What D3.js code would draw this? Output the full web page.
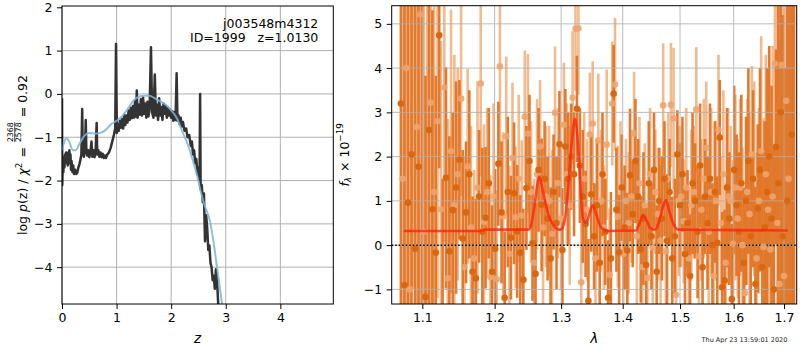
<!DOCTYPE html>
<html><head><meta charset="utf-8">
<script src="https://cdn.jsdelivr.net/npm/d3@7"></script>
<style>
body{margin:0;background:#fff;}
svg{display:block;font-family:"DejaVu Sans",sans-serif;}
</style></head><body>
<svg id="c" width="800" height="350"></svg>
<script>
// ---------- DATA ----------
const zTicks = [0, 1, 2, 3, 4];
const logpTicks = [-4, -3, -2, -1, 0, 1, 2];
const waveTicks = [1.1, 1.2, 1.3, 1.4, 1.5, 1.6, 1.7];
const fluxTicks = [-1, 0, 1, 2, 3, 4, 5];

// log p(z) (dark line)
const pzZ = [0.000,0.005,0.015,0.025,0.035,0.045,0.055,0.065,0.075,0.085,0.095,0.105,0.115,0.125,0.135,0.145,0.155,0.165,0.175,0.190,0.205,0.220,0.240,0.260,0.280,0.300,0.320,0.340,0.355,0.370,0.380,0.400,0.420,0.435,0.445,0.460,0.480,0.500,0.520,0.540,0.555,0.575,0.595,0.615,0.635,0.645,0.665,0.685,0.705,0.725,0.745,0.765,0.785,0.805,0.830,0.860,0.890,0.920,0.950,0.975,0.990,1.005,1.020,1.040,1.060,1.080,1.100,1.120,1.140,1.160,1.180,1.200,1.220,1.240,1.260,1.280,1.300,1.320,1.340,1.355,1.370,1.385,1.405,1.425,1.445,1.465,1.485,1.505,1.525,1.545,1.565,1.585,1.605,1.630,1.650,1.675,1.700,1.720,1.740,1.760,1.780,1.800,1.820,1.840,1.860,1.880,1.900,1.920,1.940,1.960,1.980,2.000,2.020,2.040,2.060,2.080,2.100,2.115,2.135,2.155,2.175,2.195,2.215,2.245,2.275,2.300,2.330,2.360,2.380,2.400,2.420,2.440,2.460,2.480,2.500,2.520,2.530,2.540,2.560,2.580,2.600,2.620,2.640,2.660,2.680,2.700,2.720,2.740,2.760,2.780,2.800,2.820,2.840,2.860,2.880];
const pzLog = [-0.10,-2.10,-1.55,-1.80,-1.45,-1.70,-1.40,-1.60,-1.35,-1.55,-1.40,-1.65,-1.35,-1.55,-1.30,-1.60,-1.40,-1.75,-1.55,-1.80,-1.65,-1.85,-1.75,-1.85,-1.82,-1.70,-1.62,-1.50,-1.40,-0.35,-1.30,-1.45,-1.30,-0.60,-1.25,-1.42,-1.30,-1.46,-1.35,-1.10,-1.45,-1.30,-1.46,-1.35,-0.67,-1.40,-1.30,-1.45,-1.35,-1.46,-1.38,-1.48,-1.42,-1.48,-1.40,-1.35,-1.25,-1.10,-0.95,-0.80,1.15,-0.90,-0.70,-0.85,-0.62,-0.78,-0.58,-0.80,-0.48,-0.72,-0.50,-0.66,-0.38,-0.60,-0.32,-0.56,-0.28,-0.55,-0.15,-0.52,0.08,-0.55,-0.25,-0.48,-0.12,-0.50,-0.08,-0.46,-0.22,-0.55,-0.18,-0.52,-0.32,1.08,-0.42,-0.55,0.45,-0.50,-0.25,-0.60,-0.10,-0.50,-0.30,-0.60,-0.22,-0.46,-0.28,-0.55,-0.32,-0.50,-0.36,-0.55,-0.40,-0.62,-0.42,-0.60,0.48,-0.62,-0.50,-0.70,-0.55,-0.75,-0.65,-0.85,-0.80,-1.00,-0.95,-1.20,-1.10,-1.40,-1.30,-1.60,-1.50,-1.85,-1.70,-2.00,0.00,-2.20,-2.10,-2.50,-2.30,-3.40,-2.80,-3.10,-3.60,-3.50,-3.90,-4.00,-4.30,-4.20,-4.50,-4.05,-4.30,-4.80,-5.30];

// smooth prior-like curve (blue line)
const priorZ = [0.00,0.03,0.08,0.13,0.20,0.25,0.32,0.40,0.50,0.60,0.70,0.80,0.90,1.00,1.10,1.20,1.30,1.40,1.50,1.60,1.70,1.80,1.90,2.00,2.10,2.20,2.30,2.40,2.47,2.55,2.62,2.68,2.72,2.78,2.84,2.90,2.95];
const priorLog = [-1.30,-1.15,-1.02,-1.10,-1.30,-1.30,-1.15,-0.98,-0.90,-0.92,-0.90,-0.83,-0.70,-0.62,-0.52,-0.35,-0.17,-0.07,-0.04,-0.04,-0.10,-0.17,-0.25,-0.38,-0.55,-0.86,-1.15,-1.55,-1.86,-2.30,-2.60,-2.80,-3.00,-3.45,-4.00,-4.55,-5.00];

// model spectrum (red)
const modelWave = [1.0757,1.180,1.186,1.250,1.254,1.259,1.2663,1.272,1.280,1.288,1.2975,1.3006,1.306,1.311,1.316,1.322,1.326,1.330,1.3345,1.340,1.346,1.3505,1.356,1.364,1.3754,1.4222,1.429,1.4346,1.441,1.448,1.4555,1.462,1.469,1.4749,1.481,1.489,1.4972,1.600,1.7075];
const modelFlux = [0.32,0.32,0.35,0.35,0.45,0.9,1.55,1.2,0.7,0.45,0.35,0.36,0.6,1.3,2.2,2.85,2.4,1.5,0.6,0.5,0.75,0.9,0.7,0.4,0.32,0.33,0.5,0.68,0.55,0.38,0.35,0.5,0.85,1.02,0.75,0.45,0.35,0.34,0.33];

// spectrum A (dark orange)
const waveA = [1.0720,1.0766,1.0812,1.0858,1.0904,1.0950,1.0996,1.1042,1.1088,1.1134,1.1180,1.1226,1.1272,1.1318,1.1364,1.1410,1.1456,1.1502,1.1548,1.1594,1.1640,1.1686,1.1732,1.1778,1.1824,1.1870,1.1916,1.1962,1.2008,1.2054,1.2100,1.2146,1.2192,1.2238,1.2284,1.2330,1.2376,1.2422,1.2468,1.2514,1.2560,1.2606,1.2652,1.2698,1.2744,1.2790,1.2836,1.2882,1.2928,1.2974,1.3020,1.3066,1.3112,1.3158,1.3204,1.3250,1.3296,1.3342,1.3388,1.3434,1.3480,1.3526,1.3572,1.3618,1.3664,1.3710,1.3756,1.3802,1.3848,1.3894,1.3940,1.3986,1.4032,1.4078,1.4124,1.4170,1.4216,1.4262,1.4308,1.4354,1.4400,1.4446,1.4492,1.4538,1.4584,1.4630,1.4676,1.4722,1.4768,1.4814,1.4860,1.4906,1.4952,1.4998,1.5044,1.5090,1.5136,1.5182,1.5228,1.5274,1.5320,1.5366,1.5412,1.5458,1.5504,1.5550,1.5596,1.5642,1.5688,1.5734,1.5780,1.5826,1.5872,1.5918,1.5964,1.6010,1.6056,1.6102,1.6148,1.6194,1.6240,1.6286,1.6332,1.6378,1.6424,1.6470,1.6516,1.6562,1.6608,1.6654,1.6700,1.6746,1.6792,1.6838,1.6884,1.6930,1.6976,1.7022,1.7068,1.7114,1.7160,1.7206];
const fluxA = [3.2,-0.9,0.96,2.05,-0.08,1.77,6.0,-1.17,2.6,0.81,-0.17,4.74,-2.0,1.52,-0.14,0.79,1.3,1.93,0.15,0.74,1.6,-0.6,-0.75,1.1,0.3,0.62,1.4,-0.6,-0.08,1.84,0.74,-1.19,1.2,0.17,1.17,0.31,-0.17,-0.78,1.29,1.9,0.04,-0.65,1.7,0.91,1.5,0.6,-0.3,1.2,0.5,2.28,-0.11,2.23,1.5,2.0,1.6,3.08,1.8,1.1,0.48,-1.26,1.15,0.2,0.9,-0.4,1.6,0.3,-1.19,-0.3,3.42,0.8,-0.16,1.3,0.4,-0.12,1.58,0.7,1.9,1.1,-0.1,0.6,-0.45,1.4,0.2,1.7,-0.6,1.0,0.6,1.5,0.1,1.2,-0.3,0.2,2.05,0.9,1.6,-0.2,0.5,-0.7,1.4,1.0,0.3,1.8,-0.5,1.1,0.5,1.5,0.0,1.2,0.05,2.43,-0.95,-0.8,1.3,0.6,-1.22,1.7,0.9,0.3,1.4,-0.4,1.0,1.9,0.2,1.5,-0.88,0.83,1.7,-0.5,0.4,1.2,2.0,0.6,-1.0,2.22,1.4,3.0,0.2,-2.0,1.0,6.0,2.5,-3.0];
const errA = [9,8,7,8,7,6,8,5,5,4.5,4,3,3.5,2.5,2.6,2.2,2.4,1.8,2.0,1.6,1.9,1.7,1.8,1.5,1.9,1.6,1.7,1.5,1.8,1.4,1.6,1.5,1.7,1.4,1.6,1.5,1.3,1.6,1.4,1.5,1.3,1.6,1.4,1.5,1.3,1.4,1.6,1.3,1.5,1.2,1.4,1.3,1.5,1.2,1.4,1.2,1.3,1.5,1.2,1.4,1.3,1.2,1.5,1.3,1.4,1.2,1.3,1.5,1.1,1.4,1.3,1.2,1.4,1.3,1.5,1.2,1.4,1.3,1.2,1.5,1.3,1.4,1.2,1.3,1.5,1.2,1.4,1.3,1.5,1.2,1.4,1.3,1.0,1.4,1.3,1.5,1.2,1.4,1.6,1.3,1.5,1.4,1.6,1.3,1.5,1.7,1.4,1.6,1.5,1.3,1.7,1.6,1.8,1.5,1.7,1.9,1.6,1.8,2.0,1.7,1.9,2.1,1.8,2.0,2.2,1.9,2.3,2.6,2.4,2.8,2.5,3.0,3.2,2.2,4,4.5,5,6,7,8,8,9];

// spectrum B (light orange)
const waveB = [1.0743,1.0789,1.0835,1.0881,1.0927,1.0973,1.1019,1.1065,1.1111,1.1157,1.1203,1.1249,1.1295,1.1341,1.1387,1.1433,1.1479,1.1525,1.1571,1.1617,1.1663,1.1709,1.1755,1.1801,1.1847,1.1893,1.1939,1.1985,1.2031,1.2077,1.2123,1.2169,1.2215,1.2261,1.2307,1.2353,1.2399,1.2445,1.2491,1.2537,1.2583,1.2629,1.2675,1.2721,1.2767,1.2813,1.2859,1.2905,1.2951,1.2997,1.3043,1.3089,1.3135,1.3181,1.3227,1.3273,1.3319,1.3365,1.3411,1.3457,1.3503,1.3549,1.3595,1.3641,1.3687,1.3733,1.3779,1.3825,1.3871,1.3917,1.3963,1.4009,1.4055,1.4101,1.4147,1.4193,1.4239,1.4285,1.4331,1.4377,1.4423,1.4469,1.4515,1.4561,1.4607,1.4653,1.4699,1.4745,1.4791,1.4837,1.4883,1.4929,1.4975,1.5021,1.5067,1.5113,1.5159,1.5205,1.5251,1.5297,1.5343,1.5389,1.5435,1.5481,1.5527,1.5573,1.5619,1.5665,1.5711,1.5757,1.5803,1.5849,1.5895,1.5941,1.5987,1.6033,1.6079,1.6125,1.6171,1.6217,1.6263,1.6309,1.6355,1.6401,1.6447,1.6493,1.6539,1.6585,1.6631,1.6677,1.6723,1.6769,1.6815,1.6861,1.6907,1.6953,1.6999,1.7045,1.7091,1.7137,1.7183];
const fluxB = [1.5,4.0,-1.0,7.0,2.67,5.21,0.3,-2.5,3.22,1.2,2.80,0.81,3.56,-0.75,2.12,0.9,1.6,3.31,-0.5,1.78,0.4,-0.3,1.3,3.65,0.53,1.2,-0.72,1.1,-0.77,4.04,0.65,2.46,-0.2,1.97,0.63,1.5,0.67,2.90,2.52,1.2,-0.4,1.6,2.23,0.4,1.1,1.0,0.25,2.99,1.4,0.6,2.72,1.6,0.9,3.33,4.89,4.9,-0.84,1.5,0.8,2.5,2.75,-0.3,2.37,1.0,0.4,2.27,-0.67,3.2,3.63,0.64,1.3,-0.2,1.0,0.5,1.1,2.52,0.2,1.4,-0.5,0.9,-0.74,1.6,-0.06,1.2,0.7,0.1,3.16,-0.14,1.5,3.17,2.86,-1.12,1.0,1.1,0.54,1.3,-0.3,0.9,1.2,3.07,-0.25,0.8,1.5,2.2,0.3,1.2,-0.7,1.0,2.6,0.5,1.6,-0.4,1.1,1.0,0.03,1.3,0.6,1.3,0.0,-1.08,1.2,0.7,2.05,1.5,-0.3,1.0,2.12,-0.04,1.6,0.8,-0.1,1.1,4.1,0.5,-0.88,4.07,-0.7,3.26,1.5,6.5,-2.0];
const errB = [9,8,9,8,7,8,7,8,6,4.5,4,3.8,3.5,3.6,3.2,3.4,2.4,2.2,2.5,2.2,2.3,2.0,2.4,2.1,2.2,1.9,2.3,2.1,2.0,2.2,1.9,1.8,2.0,1.7,1.6,1.9,1.7,1.5,1.8,1.6,1.9,1.7,1.5,1.8,1.6,1.7,1.9,1.5,1.7,1.6,1.4,1.6,1.8,1.5,1.4,1.5,1.7,1.5,1.6,1.4,1.4,1.7,1.5,1.6,1.4,1.7,1.5,1.4,1.5,1.6,1.5,1.7,1.4,1.6,1.5,1.4,1.7,1.5,1.6,1.4,1.7,1.5,1.6,1.4,1.5,1.7,1.4,1.6,1.5,1.4,1.6,1.5,1.7,1.6,1.4,1.8,1.6,1.7,1.5,1.4,1.7,1.6,1.8,1.5,1.7,1.9,1.6,1.8,1.7,1.5,1.9,1.8,2.0,1.7,1.9,2.1,1.8,2.0,2.2,1.9,2.1,2.3,2.0,2.2,2.4,2.1,2.6,2.9,2.7,3.1,3.0,3.4,3.6,5,5.5,6,6.5,7,8,8,9];

// ---------- CHART ----------
const svg = d3.select('#c');
const FS = 12.5;
const minus = d => (d < 0 ? '\u2212' + Math.abs(d) : '' + d);

const L = {x0: 62, x1: 333.3, y0: 6, y1: 304};
const R = {x0: 391.7, x1: 796.7, y0: 5.7, y1: 304};

const xL = d3.scaleLinear().domain([0, 4.97]).range([L.x0, L.x1]);
const yL = d3.scaleLinear().domain([-4.85, 2.03]).range([L.y1, L.y0]);
const xR = d3.scaleLog().domain([1.0602, 1.7261]).range([R.x0, R.x1]);
const yR = d3.scaleLinear().domain([-1.33, 5.41]).range([R.y1, R.y0]);

const defs = svg.append('defs');
defs.append('clipPath').attr('id', 'clipL').append('rect')
  .attr('x', L.x0).attr('y', L.y0).attr('width', L.x1 - L.x0).attr('height', L.y1 - L.y0);
defs.append('clipPath').attr('id', 'clipR').append('rect')
  .attr('x', R.x0).attr('y', R.y0).attr('width', R.x1 - R.x0).attr('height', R.y1 - R.y0);

function grid(g, xs, xt, ys, yt, P) {
  g.selectAll('line.gx').data(xt).enter().append('line')
    .attr('x1', d => xs(d)).attr('x2', d => xs(d)).attr('y1', P.y0).attr('y2', P.y1)
    .attr('stroke', '#b0b0b0').attr('stroke-width', 1);
  g.selectAll('line.gy').data(yt).enter().append('line')
    .attr('x1', P.x0).attr('x2', P.x1).attr('y1', d => ys(d)).attr('y2', d => ys(d))
    .attr('stroke', '#b0b0b0').attr('stroke-width', 1);
}
function styleAxis(g) {
  g.select('.domain').remove();
  g.selectAll('.tick line').attr('stroke', '#000').attr('stroke-width', 1);
  g.selectAll('.tick text').attr('font-size', FS).attr('fill', '#000')
    .attr('font-family', '"DejaVu Sans", sans-serif');
}

// ----- LEFT PANEL -----
const gL = svg.append('g');
grid(gL.append('g'), xL, zTicks, yL, logpTicks.filter(d => d < 2), L);
const plotL = gL.append('g').attr('clip-path', 'url(#clipL)');
const pz = pzZ.map((z, i) => [z, pzLog[i]]);
const pr = priorZ.map((z, i) => [z, priorLog[i]]);
plotL.append('path').datum(pz)
  .attr('d', d3.line().x(d => xL(d[0])).y(d => yL(d[1])))
  .attr('fill', 'none').attr('stroke', '#333').attr('stroke-width', 2.5).attr('stroke-linejoin', 'round');
plotL.append('path').datum(pr)
  .attr('d', d3.line().curve(d3.curveMonotoneX).x(d => xL(d[0])).y(d => yL(d[1])))
  .attr('fill', 'none').attr('stroke', '#7fb2d9').attr('stroke-opacity', 0.85).attr('stroke-width', 2);

gL.append('g').attr('transform', `translate(0,${L.y1})`)
  .call(d3.axisBottom(xL).tickValues(zTicks).tickSize(5).tickPadding(4.5).tickFormat(d3.format('d')))
  .call(styleAxis);
gL.append('g').attr('transform', `translate(${L.x0},0)`)
  .call(d3.axisLeft(yL).tickValues(logpTicks).tickSize(5).tickPadding(4.5).tickFormat(minus))
  .call(styleAxis);
gL.append('rect').attr('x', L.x0).attr('y', L.y0).attr('width', L.x1 - L.x0).attr('height', L.y1 - L.y0)
  .attr('fill', 'none').attr('stroke', '#000').attr('stroke-width', 1);

gL.append('text').attr('x', 318.3).attr('y', 27.5).attr('text-anchor', 'end').attr('font-size', FS)
  .text('j003548m4312');
gL.append('text').attr('x', 318.3).attr('y', 41.5).attr('text-anchor', 'end').attr('font-size', FS)
  .style('white-space', 'pre').text('ID=1999   z=1.0130');

gL.append('text').attr('x', (L.x0 + L.x1) / 2).attr('y', 343).attr('text-anchor', 'middle')
  .attr('font-size', FS + 1).attr('font-style', 'italic').text('z');

function rotLabel(x, yc, pieces) {
  const g = svg.append('g').attr('transform', `translate(${x},${yc}) rotate(-90)`);
  const inner = g.append('g');
  let cx = 0;
  pieces.forEach(p => {
    if (p.frac) {
      const sf = 7.8;
      const a = inner.append('text').attr('font-size', sf).attr('y', -14).text(p.frac[0]);
      const b = inner.append('text').attr('font-size', sf).attr('y', -6.3).text(p.frac[1]);
      const wa = a.node().getComputedTextLength(), wb = b.node().getComputedTextLength();
      const w = Math.max(wa, wb);
      a.attr('x', cx + 1 + (w - wa) / 2);
      b.attr('x', cx + 1 + (w - wb) / 2);
      inner.append('line').attr('x1', cx + 1).attr('x2', cx + 1 + w).attr('y1', -12.6).attr('y2', -12.6)
        .attr('stroke', '#000').attr('stroke-width', 0.7);
      cx += w + 2;
    } else {
      const t = inner.append('text').attr('x', cx).attr('y', p.dy || 0)
        .attr('font-size', p.size || FS).style('white-space', 'pre').text(p.t);
      if (p.it) t.attr('font-style', 'italic');
      cx += t.node().getComputedTextLength() + (p.gap || 0);
    }
  });
  inner.attr('transform', `translate(${-cx / 2},0)`);
}
rotLabel(27.3, (L.y0 + L.y1) / 2, [
  {t: 'log '}, {t: 'p', it: true}, {t: '(z) / '}, {t: '\u03c7', it: true},
  {t: '2', size: 8.8, dy: -5.2, gap: 1}, {t: ' = '}, {frac: ['2368', '2578']}, {t: ' = 0.92'}
]);

// ----- RIGHT PANEL -----
const gR = svg.append('g');
const plotR = gR.append('g').attr('clip-path', 'url(#clipR)');
const specB = waveB.map((w, i) => ({w, f: fluxB[i], e: errB[i]}));
const specA = waveA.map((w, i) => ({w, f: fluxA[i], e: errA[i]}));

plotR.append('g').selectAll('line').data(specB).enter().append('line')
  .attr('x1', d => xR(d.w)).attr('x2', d => xR(d.w))
  .attr('y1', d => yR(d.f - d.e)).attr('y2', d => yR(d.f + d.e))
  .attr('stroke', '#f3ba8f').attr('stroke-width', 2.6);
plotR.append('g').selectAll('line').data(specA).enter().append('line')
  .attr('x1', d => xR(d.w)).attr('x2', d => xR(d.w))
  .attr('y1', d => yR(d.f - d.e)).attr('y2', d => yR(d.f + d.e))
  .attr('stroke', '#df7426').attr('stroke-opacity', 0.95).attr('stroke-width', 2.6);

grid(plotR.append('g').attr('opacity', 0.85), xR, waveTicks, yR, fluxTicks, R);

plotR.append('line').attr('x1', R.x0).attr('x2', R.x1).attr('y1', yR(0)).attr('y2', yR(0))
  .attr('stroke', '#000').attr('stroke-width', 1.5).attr('stroke-dasharray', '1.5,2');

plotR.append('g').selectAll('circle').data(specB).enter().append('circle')
  .attr('cx', d => xR(d.w)).attr('cy', d => yR(d.f)).attr('r', 3.3)
  .attr('fill', '#eea46f').attr('fill-opacity', 0.9);
plotR.append('g').selectAll('circle').data(specA).enter().append('circle')
  .attr('cx', d => xR(d.w)).attr('cy', d => yR(d.f)).attr('r', 3.3)
  .attr('fill', '#d9670f');

const model = modelWave.map((w, i) => [w, modelFlux[i]]);
plotR.append('path').datum(model)
  .attr('d', d3.line().curve(d3.curveMonotoneX).x(d => xR(d[0])).y(d => yR(d[1])))
  .attr('fill', 'none').attr('stroke', '#ff2410').attr('stroke-opacity', 0.8).attr('stroke-width', 2.6);

gR.append('g').attr('transform', `translate(0,${R.y1})`)
  .call(d3.axisBottom(xR).tickValues(waveTicks).tickSize(5).tickPadding(4.5).tickFormat(d3.format('.1f')))
  .call(styleAxis);
gR.append('g').attr('transform', `translate(${R.x0},0)`)
  .call(d3.axisLeft(yR).tickValues(fluxTicks).tickSize(5).tickPadding(4.5).tickFormat(minus))
  .call(styleAxis);
gR.append('rect').attr('x', R.x0).attr('y', R.y0).attr('width', R.x1 - R.x0).attr('height', R.y1 - R.y0)
  .attr('fill', 'none').attr('stroke', '#000').attr('stroke-width', 1);

gR.append('text').attr('x', (R.x0 + R.x1) / 2).attr('y', 343).attr('text-anchor', 'middle')
  .attr('font-size', FS + 1).attr('font-style', 'italic').text('\u03bb');

rotLabel(348.5, (R.y0 + R.y1) / 2, [
  {t: 'f', it: true}, {t: '\u03bb', it: true, size: 8.8, dy: 2.5, gap: 1}, {t: ' \u00d7 10'},
  {t: '\u221219', size: 8.8, dy: -5.5}
]);

svg.append('text').attr('x', 787.3).attr('y', 341.7).attr('text-anchor', 'end')
  .attr('font-size', 6.5).attr('fill', '#222').text('Thu Apr 23 13:59:01 2020');
</script>
</body></html>
